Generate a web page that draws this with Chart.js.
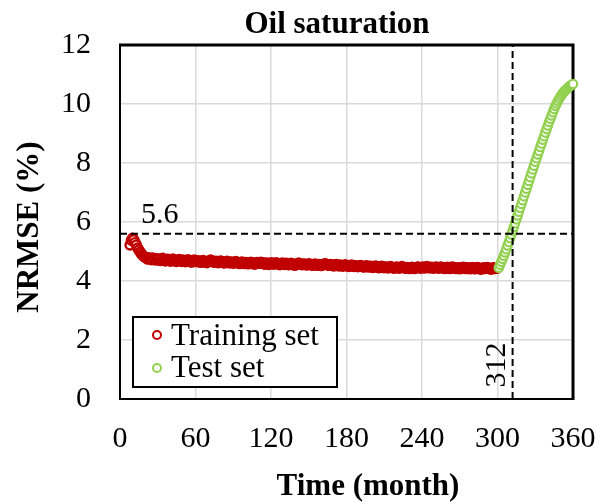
<!DOCTYPE html>
<html><head><meta charset="utf-8">
<script src="https://cdn.jsdelivr.net/npm/chart.js@4.4.1/dist/chart.umd.min.js"></script>
<style>html,body{margin:0;padding:0;background:#fff}canvas{display:block}</style>
</head><body>
<canvas id="c" width="605" height="502"></canvas>
<script>
const chartTitle = "Oil saturation";
const xTitle = "Time (month)";
const yTitle = "NRMSE (%)";
const seriesNames = ["Training set", "Test set"];
const xTickValues = [0, 60, 120, 180, 240, 300, 360];
const yTickValues = [0, 2, 4, 6, 8, 10, 12];
const thresholdValue = 5.6;
const thresholdLabel = "5.6";
const splitMonth = 312;
const splitLabel = "312";

const trainFirstMonth = 8;
const trainValues = [
  5.22, 5.38, 5.45, 5.40, 5.30, 5.22, 5.12, 5.05, 4.98, 4.92, 4.87, 4.83, 4.80,
  4.78, 4.74, 4.79, 4.75, 4.72, 4.78, 4.75, 4.71, 4.76, 4.72,
  4.75, 4.69, 4.72, 4.77, 4.73, 4.68, 4.70, 4.74, 4.71, 4.67,
  4.70, 4.75, 4.71, 4.67, 4.66, 4.70, 4.73, 4.69, 4.66, 4.71,
  4.69, 4.65, 4.68, 4.72, 4.69, 4.65, 4.64, 4.69, 4.71, 4.67,
  4.65, 4.69, 4.67, 4.63, 4.65, 4.70, 4.67, 4.63, 4.62, 4.66,
  4.68, 4.71, 4.68, 4.65, 4.63, 4.67, 4.66, 4.62, 4.64, 4.68,
  4.66, 4.62, 4.61, 4.65, 4.67, 4.64, 4.61, 4.65, 4.64, 4.60,
  4.62, 4.66, 4.64, 4.61, 4.59, 4.63, 4.65, 4.62, 4.59, 4.63,
  4.62, 4.58, 4.60, 4.64, 4.62, 4.59, 4.57, 4.61, 4.63, 4.60,
  4.61, 4.64, 4.62, 4.59, 4.57, 4.61, 4.60, 4.56, 4.58, 4.62,
  4.60, 4.57, 4.59, 4.62, 4.60, 4.57, 4.55, 4.59, 4.61, 4.58,
  4.56, 4.60, 4.58, 4.55, 4.56, 4.60, 4.58, 4.55, 4.53, 4.57,
  4.58, 4.61, 4.59, 4.56, 4.55, 4.58, 4.57, 4.54, 4.55, 4.59,
  4.57, 4.54, 4.53, 4.56, 4.58, 4.55, 4.53, 4.56, 4.55, 4.52,
  4.54, 4.57, 4.59, 4.57, 4.54, 4.53, 4.56, 4.55, 4.52, 4.51,
  4.54, 4.56, 4.53, 4.51, 4.54, 4.53, 4.50, 4.52, 4.55, 4.53,
  4.50, 4.49, 4.52, 4.54, 4.51, 4.49, 4.52, 4.51, 4.48, 4.50,
  4.53, 4.51, 4.48, 4.47, 4.50, 4.52, 4.49, 4.47, 4.50, 4.49,
  4.46, 4.48, 4.51, 4.49, 4.46, 4.45, 4.48, 4.50, 4.47, 4.45,
  4.48, 4.47, 4.44, 4.46, 4.49, 4.47, 4.44, 4.43, 4.46, 4.48,
  4.45, 4.43, 4.46, 4.49, 4.47, 4.44, 4.43, 4.46, 4.45, 4.42,
  4.44, 4.47, 4.45, 4.42, 4.44, 4.47, 4.48, 4.45, 4.43, 4.46,
  4.48, 4.44, 4.46, 4.49, 4.46, 4.44, 4.47, 4.46, 4.43, 4.45,
  4.48, 4.46, 4.43, 4.45, 4.48, 4.46, 4.43, 4.42, 4.45, 4.47,
  4.44, 4.42, 4.45, 4.48, 4.46, 4.43, 4.42, 4.45, 4.44, 4.41,
  4.43, 4.46, 4.47, 4.44, 4.42, 4.45, 4.44, 4.41, 4.43, 4.46,
  4.44, 4.41, 4.43, 4.46, 4.44, 4.41, 4.40, 4.43, 4.45, 4.42,
  4.43, 4.46, 4.44, 4.41, 4.40, 4.43, 4.45, 4.42, 4.43, 4.44
];

const testFirstMonth = 301;
const testValues = [
  4.45, 4.55, 4.65, 4.75, 4.86, 4.97, 5.08, 5.20, 5.32, 5.45,
  5.58, 5.70, 5.83, 5.96, 6.09, 6.22, 6.35, 6.48, 6.61, 6.74,
  6.87, 7.00, 7.13, 7.26, 7.39, 7.52, 7.65, 7.78, 7.91, 8.04,
  8.16, 8.29, 8.41, 8.54, 8.66, 8.79, 8.91, 9.03, 9.15, 9.27,
  9.39, 9.50, 9.61, 9.72, 9.83, 9.93, 10.02, 10.10, 10.18, 10.25,
  10.31, 10.37, 10.42, 10.47, 10.51, 10.55, 10.59, 10.62, 10.65, 10.68
];

const RED = '#C00000';
const GREEN = '#92D050';
const FONT = '"Liberation Serif","Times New Roman",serif';

const trainPoints = trainValues.map((v, i) => ({x: trainFirstMonth + i, y: v}));
const testPoints = testValues.map((v, i) => ({x: testFirstMonth + i, y: v}));

const decor = {
  id: 'decor',
  beforeDatasetsDraw(chart) {
    const {ctx, chartArea: a} = chart;
    ctx.save();
    ctx.strokeStyle = '#000';
    ctx.lineWidth = 2;
    ctx.beginPath();
    ctx.moveTo(a.left, a.top); ctx.lineTo(a.left, a.bottom); ctx.lineTo(a.right, a.bottom);
    ctx.stroke();
    ctx.lineWidth = 3;
    ctx.beginPath();
    ctx.moveTo(a.left - 1, a.top); ctx.lineTo(a.right, a.top); ctx.lineTo(a.right, a.bottom + 1);
    ctx.stroke();
    ctx.restore();
  },
  afterDraw(chart) {
    const {ctx, chartArea: a, scales: {x, y}} = chart;
    ctx.save();
    ctx.fillStyle = '#000';
    ctx.font = 'bold 31px ' + FONT;
    ctx.textAlign = 'center';
    ctx.textBaseline = 'alphabetic';
    ctx.fillText(chartTitle, 337, 33);
    ctx.fillText(xTitle, 368, 495);
    ctx.save();
    ctx.translate(38, 227);
    ctx.rotate(-Math.PI / 2);
    ctx.fillText(yTitle, 0, 0);
    ctx.restore();
    ctx.font = '30px ' + FONT;
    ctx.textAlign = 'left';
    ctx.fillText(thresholdLabel, a.left + 21, y.getPixelForValue(thresholdValue) - 11);
    ctx.save();
    ctx.translate(x.getPixelForValue(splitMonth) - 8, a.bottom - 34);
    ctx.rotate(-Math.PI / 2);
    ctx.textAlign = 'center';
    ctx.fillText(splitLabel, 0, 0);
    ctx.restore();
    // legend
    const lx = 133, ly = 317, lw = 204, lh = 70;
    ctx.fillStyle = '#fff';
    ctx.fillRect(lx, ly, lw, lh);
    ctx.strokeStyle = '#000';
    ctx.lineWidth = 2;
    ctx.strokeRect(lx, ly, lw, lh);
    const ds = chart.data.datasets;
    [[seriesNames[0], 335, 345], [seriesNames[1], 368, 377]].forEach(([name, my, by]) => {
      const d = ds.find(s => s.label === name);
      ctx.beginPath();
      ctx.arc(157, my, 4, 0, Math.PI * 2);
      ctx.fillStyle = '#fff';
      ctx.fill();
      ctx.lineWidth = 2;
      ctx.strokeStyle = d.pointBorderColor;
      ctx.stroke();
      ctx.fillStyle = '#000';
      ctx.font = '31px ' + FONT;
      ctx.textAlign = 'left';
      ctx.fillText(d.label, 171, by);
    });
    ctx.restore();
  }
};

new Chart(document.getElementById('c'), {
  type: 'scatter',
  data: {
    datasets: [
      {label: 'threshold', data: [{x: 0, y: thresholdValue}, {x: 360, y: thresholdValue}],
       showLine: true, pointRadius: 0, borderColor: '#000', borderWidth: 2, borderDash: [7, 4], order: 0, clip: false},
      {label: 'split', data: [{x: splitMonth, y: 0}, {x: splitMonth, y: 12}],
       showLine: true, pointRadius: 0, borderColor: '#000', borderWidth: 2, borderDash: [7, 4], order: 0, clip: false},
      {label: seriesNames[1], data: testPoints, showLine: false, pointRadius: 4.2, pointBorderWidth: 2.2,
       pointBorderColor: GREEN, pointBackgroundColor: '#fff', borderColor: GREEN, backgroundColor: '#fff', order: 1, clip: false},
      {label: seriesNames[0], data: trainPoints, showLine: false, pointRadius: 4.5, pointBorderWidth: 2.4,
       pointBorderColor: RED, pointBackgroundColor: '#fff', borderColor: RED, backgroundColor: '#fff', order: 2, clip: false}
    ]
  },
  options: {
    responsive: false,
    animation: false,
    devicePixelRatio: 1,
    layout: {padding: {left: 0, right: 32, top: 45, bottom: 0}},
    plugins: {legend: {display: false}, title: {display: false}, tooltip: {enabled: false}},
    scales: {
      x: {
        type: 'linear', min: 0, max: 360,
        afterBuildTicks: s => { s.ticks = xTickValues.map(v => ({value: v})); },
        afterFit: s => { s.height = 103; s.paddingLeft = 0; s.paddingRight = 0; },
        grid: {color: '#d9d9d9', lineWidth: 1.5, drawTicks: false},
        border: {display: false},
        ticks: {color: '#000', font: {family: FONT, size: 30}, padding: 22, maxRotation: 0, autoSkip: false},
        title: {display: false}
      },
      y: {
        type: 'linear', min: 0, max: 12,
        afterBuildTicks: s => { s.ticks = yTickValues.map(v => ({value: v})); },
        afterFit: s => { s.width = 120; s.paddingTop = 0; s.paddingBottom = 0; },
        grid: {color: '#d9d9d9', lineWidth: 1.5, drawTicks: false},
        border: {display: false},
        ticks: {color: '#000', font: {family: FONT, size: 30}, padding: 29, autoSkip: false},
        title: {display: false}
      }
    }
  },
  plugins: [decor]
});
</script>
</body></html>
